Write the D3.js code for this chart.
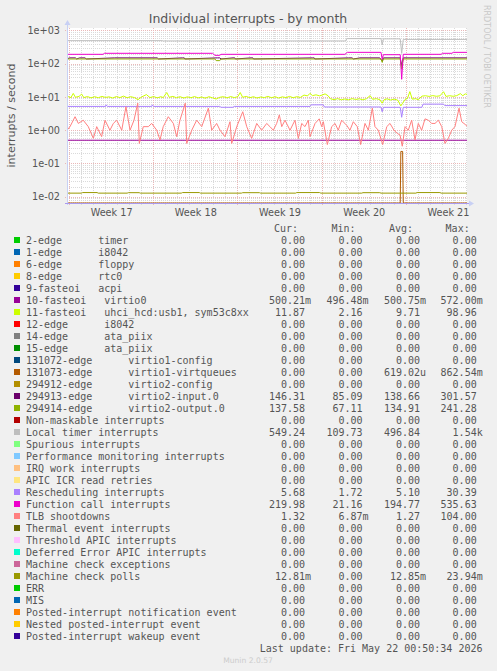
<!DOCTYPE html>
<html><head><meta charset="utf-8">
<script src="https://cdn.jsdelivr.net/npm/d3@7"></script>
<style>
html,body{margin:0;padding:0;background:#f0f0f0;}
svg{display:block;}
text{font-family:"DejaVu Sans",sans-serif;}
.mono{font-family:"DejaVu Sans Mono",monospace;font-size:10px;fill:#555;white-space:pre;}
</style></head><body>
<svg id="c" width="497" height="671"></svg>
<script>
// ---------- data ----------
const title = "Individual interrupts - by month";
const yLabel = "interrupts / second";
const yTicks = [1e-2, 1e-1, 1e0, 1e1, 1e2, 1e3];
const graphStart = Date.UTC(2026, 3, 19, 20, 0);   // left edge of graph
const graphDays = 33.25;                             // graph span in days

const labels = [
  "2-edge      timer", "1-edge      i8042", "6-edge      floppy", "8-edge      rtc0",
  "9-fasteoi   acpi", "10-fasteoi   virtio0", "11-fasteoi   uhci_hcd:usb1, sym53c8xx",
  "12-edge      i8042", "14-edge      ata_piix", "15-edge      ata_piix",
  "131072-edge      virtio1-config", "131073-edge      virtio1-virtqueues",
  "294912-edge      virtio2-config", "294913-edge      virtio2-input.0",
  "294914-edge      virtio2-output.0", "Non-maskable interrupts", "Local timer interrupts",
  "Spurious interrupts", "Performance monitoring interrupts", "IRQ work interrupts",
  "APIC ICR read retries", "Rescheduling interrupts", "Function call interrupts",
  "TLB shootdowns", "Thermal event interrupts", "Threshold APIC interrupts",
  "Deferred Error APIC interrupts", "Machine check exceptions", "Machine check polls",
  "ERR", "MIS", "Posted-interrupt notification event", "Nested posted-interrupt event",
  "Posted-interrupt wakeup event"
];
const colors = [
  "#00CC00","#0066B3","#FF8000","#FFCC00","#330099","#990099","#CCFF00","#FF0000","#808080",
  "#008F00","#00487D","#B35A00","#B38F00","#6B006B","#8FB300","#B30000","#BEBEBE",
  "#80FF80","#80C9FF","#FFC080","#FFE680","#AA80FF","#EE00CC","#FF8080",
  "#666600","#FFBFFF","#00FFCC","#CC6699","#999900",
  "#00CC00","#0066B3","#FF8000","#FFCC00","#330099"
];
const curVals = [0,0,0,0,0,0.50021,11.87,0,0,0,0,0,0,146.31,137.58,0,549.24,0,0,0,0,5.68,219.98,1.32,0,0,0,0,0.01281,0,0,0,0,0];
const minVals = [0,0,0,0,0,0.49648,2.16,0,0,0,0,0,0,85.09,67.11,0,109.73,0,0,0,0,1.72,21.16,0.00687,0,0,0,0,0,0,0,0,0,0];
const avgVals = [0,0,0,0,0,0.50075,9.71,0,0,0,0,0.00061902,0,138.66,134.91,0,496.84,0,0,0,0,5.10,194.77,1.27,0,0,0,0,0.01285,0,0,0,0,0];
const maxVals = [0,0,0,0,0,0.572,98.96,0,0,0,0,0.86254,0,301.57,241.28,0,1540,0,0,0,0,30.39,535.63,104.00,0,0,0,0,0.02394,0,0,0,0,0];

// time series: [day offset from graph start, value]
const irq10 = [[0,0.5],[33.25,0.5]];
const irq11 = [[0,10.5],[0.33,9.6],[0.52,12.8],[0.7,9.8],[1.0,10.4],[1.22,12.2],[1.4,9.6],[1.7,10.3],[2.0,9.4],[2.3,10.2],[2.6,9.5],[2.9,10.4],[3.2,9.7],[3.5,10.1],[3.8,9.3],[4.1,10.3],[4.4,9.6],[4.7,10.6],[5.0,9.5],[5.3,10.2],[5.6,9.6],[5.9,8.3],[6.2,10.0],[6.6,11.8],[6.9,9.6],[7.2,10.3],[7.5,9.4],[7.8,10.2],[8.0,9.6],[8.29,13.6],[8.5,9.8],[8.8,10.4],[9.1,9.5],[9.4,10.2],[9.7,9.3],[10.0,10.1],[10.3,9.5],[10.6,10.3],[10.9,9.4],[11.2,10.0],[11.5,9.2],[11.8,10.2],[12.1,9.4],[12.4,8.7],[12.7,9.8],[13.0,10.2],[13.3,9.4],[13.6,10.3],[13.9,9.6],[14.2,10.2],[14.4,13.6],[14.6,9.8],[14.9,10.4],[15.2,9.5],[15.5,10.2],[15.8,9.3],[16.1,10.0],[16.4,9.6],[16.7,10.4],[17.0,9.5],[17.3,10.2],[17.6,9.3],[17.9,10.1],[18.2,9.6],[18.5,10.4],[18.8,9.5],[19.1,10.2],[19.4,9.7],[19.7,11.4],[20.0,10.8],[20.2,12.9],[20.4,11.0],[20.7,11.6],[21.0,10.8],[21.2,11.4],[21.45,12.4],[21.7,10.9],[21.9,8.8],[22.2,8.3],[22.5,8.9],[22.8,8.2],[23.1,8.7],[23.4,8.2],[23.7,8.9],[24.0,8.4],[24.3,8.8],[24.6,8.2],[24.9,8.9],[25.2,11.0],[25.4,8.5],[25.7,8.9],[26.0,8.3],[26.2,6.5],[26.35,8.2],[26.6,8.8],[26.9,8.1],[27.2,8.6],[27.5,8.0],[27.75,5.4],[27.9,6.5],[28.1,8.4],[28.3,9.0],[28.5,14.5],[28.7,8.6],[29.0,8.9],[29.2,8.2],[29.5,10.6],[29.8,10.9],[30.1,10.4],[30.4,11.0],[30.7,10.5],[31.0,10.8],[31.3,14.4],[31.5,10.4],[31.8,10.9],[32.1,10.5],[32.4,11.0],[32.7,12.6],[32.9,10.9],[33.1,12.4],[33.25,11.9]];
const irq131073 = [[0,0],[27.7,0],[27.75,0.23],[27.9,0.23],[27.95,0],[33.25,0]];
const irq294913 = [[0,139],[0.2,150],[0.7,150],[0.8,139],[1.05,150],[1.5,150],[1.6,139],[3.95,150],[7.5,150],[7.6,139],[9.6,150],[9.75,150],[9.8,139],[12.5,150],[12.7,150],[12.8,139],[13.8,150],[13.95,150],[14.0,139],[15.3,150],[15.45,150],[15.5,139],[20.4,150],[20.55,150],[20.6,139],[23.4,150],[23.7,150],[23.8,139],[24.35,150],[26.0,150],[26.2,120],[26.3,150],[27.7,150],[27.82,88],[27.95,150],[33.25,150]];
const irq294914 = [[0,139],[12.3,139],[12.4,124],[12.7,124],[12.8,139],[26.1,139],[26.2,110],[26.3,139],[27.7,139],[27.82,70],[27.95,139],[33.25,139]];
const locTimer = [[0,495],[7.9,495],[8.0,485],[23.1,485],[23.3,570],[26.1,570],[26.2,370],[26.3,560],[27.7,560],[27.82,205],[27.95,540],[33.25,540]];
const resched = [[0,5.2],[3.2,5.2],[3.25,5.8],[3.35,5.2],[7.05,5.2],[7.1,5.8],[7.2,5.2],[12.7,5.2],[12.8,4.9],[13.8,4.9],[13.9,5.2],[20.2,5.2],[20.3,5.8],[21.3,5.8],[21.4,5.0],[26.1,5.0],[26.2,3.6],[26.3,4.9],[27.7,4.9],[27.82,2.45],[27.95,4.9],[29.5,4.9],[29.6,6.1],[31.3,6.1],[31.4,5.5],[33.25,5.5]];
const funcCall = [[0,192],[3.0,192],[3.1,206],[12.1,206],[12.3,179],[12.7,179],[12.8,192],[23.1,192],[23.3,220],[26.1,220],[26.2,136],[26.3,187],[27.7,187],[27.82,34],[27.95,192],[31.1,192],[31.2,206],[32.0,206],[32.1,220],[33.25,220]];
const tlb = [[0,1.0],[0.25,1.28],[0.67,2.55],[0.94,1.6],[1.35,2.0],[1.77,1.28],[2.19,0.57],[2.47,1.28],[2.88,0.64],[3.16,2.0],[3.57,1.0],[3.85,1.6],[4.13,2.0],[4.55,1.0],[4.90,5.1],[5.24,1.0],[5.57,2.0],[5.88,6.5],[6.01,0.40],[6.34,1.28],[6.76,1.28],[7.04,1.6],[7.46,1.0],[7.73,0.51],[8.00,1.28],[8.42,2.55],[8.84,1.6],[9.12,0.64],[9.39,2.0],[9.83,6.5],[9.95,0.40],[10.37,1.0],[10.78,2.0],[11.20,1.28],[11.75,4.6],[12.03,1.0],[12.44,1.6],[12.72,1.0],[13.13,0.64],[13.55,1.8],[13.69,0.40],[14.11,1.28],[14.61,3.6],[14.94,1.28],[15.35,0.57],[15.77,1.6],[16.18,1.0],[16.60,1.6],[16.87,1.28],[17.15,1.0],[17.43,1.6],[17.65,2.9],[17.85,1.28],[18.12,2.0],[18.54,1.0],[18.95,2.0],[19.23,0.57],[19.51,1.6],[19.78,1.28],[20.06,2.0],[20.20,0.64],[20.62,1.6],[20.97,2.2],[21.17,1.28],[21.31,1.8],[21.64,0.37],[22.00,1.28],[22.28,1.6],[22.55,1.0],[22.83,2.0],[23.25,1.4],[23.52,1.0],[23.80,1.8],[24.13,1.28],[24.41,0.37],[24.77,1.6],[25.05,1.0],[25.38,4.6],[25.60,1.28],[25.88,1.0],[26.24,0.37],[26.58,1.28],[26.85,1.6],[27.18,1.0],[27.46,0.8],[27.68,0.72],[27.87,0.33],[28.10,1.28],[28.37,1.0],[28.65,2.0],[28.93,0.51],[29.20,1.6],[29.48,1.0],[29.76,2.2],[30.03,2.0],[30.32,1.6],[30.59,1.6],[30.87,2.0],[31.15,1.28],[31.42,0.40],[31.70,0.57],[31.98,1.0],[32.25,1.28],[32.59,4.6],[32.81,1.8],[33.09,1.5],[33.25,1.32]];
const mcePolls = [[0,0.0128],[1.2,0.0128],[1.3,0.0133],[2.5,0.0133],[2.6,0.0128],[5.0,0.0128],[5.1,0.0132],[6.0,0.0132],[6.1,0.0128],[9.5,0.0128],[9.6,0.0133],[11.0,0.0133],[11.1,0.0128],[14.5,0.0128],[14.6,0.0132],[16.0,0.0132],[16.1,0.0128],[19.0,0.0128],[19.1,0.0133],[21.0,0.0133],[21.1,0.0128],[24.5,0.0128],[24.6,0.0132],[26.0,0.0132],[26.1,0.0128],[29.0,0.0128],[29.1,0.0133],[31.0,0.0133],[31.1,0.0128],[33.25,0.0128]];

// which legend entry each plotted series belongs to (draw order = legend order)
const plotted = [
  [5, irq10], [6, irq11], [11, irq131073], [13, irq294913], [14, irq294914],
  [16, locTimer], [21, resched], [22, funcCall], [23, tlb], [28, mcePolls]
];

// ---------- drawing ----------
const svg = d3.select("#c");
const W = 497, H = 671;
const pl = 67, pr = 467, pt = 28, pb = 203;
const DAY = 864e5;
const x = d3.scaleTime().domain([new Date(graphStart), new Date(graphStart + graphDays * DAY)]).range([pl, pr]);
const yMin = 0.00646, yMax = 1189;
const y = d3.scaleLog().domain([yMin, yMax]).range([pb, pt]);

svg.append("rect").attr("width", W).attr("height", H).attr("fill", "#f0f0f0");
svg.append("rect").attr("x", pl).attr("y", pt).attr("width", pr - pl).attr("height", pb - pt).attr("fill", "#ffffff");

// title
svg.append("text").attr("x", 248).attr("y", 23).attr("text-anchor", "middle")
  .attr("font-size", "12.5px").attr("fill", "#555").text(title);
// y unit label
svg.append("text").attr("transform", `translate(15,${(pt + pb) / 2}) rotate(-90)`)
  .attr("text-anchor", "middle").attr("font-size", "11px").attr("fill", "#555").text(yLabel);
// watermark
svg.append("text").attr("transform", "translate(483.5,5) rotate(90)")
  .attr("font-size", "8px").attr("fill", "#c8c8c8").text("RRDTOOL / TOBI OETIKER");

// grid
const g = svg.append("g");
const [t0, t1] = x.domain();
const days = d3.utcDay.range(t0, t1);
const mondays = d3.utcMonday.range(t0, t1);
const minorY = [];
for (let e = -3; e <= 3; e++) for (let k = 1; k <= 9; k++) {
  const v = k * Math.pow(10, e);
  if (v >= yMin && v <= yMax) minorY.push(v);
}
g.selectAll(".hmin").data(minorY.filter(v => !yTicks.includes(v))).join("line")
  .attr("x1", pl).attr("x2", pr).attr("y1", d => Math.round(y(d)) + 0.5).attr("y2", d => Math.round(y(d)) + 0.5)
  .attr("stroke", "#dadada").attr("stroke-dasharray", "1,1");
g.selectAll(".vmin").data(days.filter(d => d.getUTCDay() !== 1)).join("line")
  .attr("x1", d => Math.round(x(d)) + 0.5).attr("x2", d => Math.round(x(d)) + 0.5)
  .attr("y1", pt).attr("y2", pb + 2)
  .attr("stroke", "#dadada").attr("stroke-dasharray", "1,1");
g.selectAll(".hmaj").data(yTicks).join("line")
  .attr("x1", pl - 2).attr("x2", pr).attr("y1", d => Math.round(y(d)) + 0.5).attr("y2", d => Math.round(y(d)) + 0.5)
  .attr("stroke", "#eab8b8").attr("stroke-dasharray", "1,1");
g.selectAll(".vmaj").data(mondays).join("line")
  .attr("x1", d => Math.round(x(d)) + 0.5).attr("x2", d => Math.round(x(d)) + 0.5)
  .attr("y1", pt).attr("y2", pb + 3)
  .attr("stroke", "#eab8b8").attr("stroke-dasharray", "1,1");

// series
svg.append("clipPath").attr("id", "pc").append("rect")
  .attr("x", pl).attr("y", pt - 1).attr("width", pr - pl).attr("height", pb - pt + 1);
const line = d3.line()
  .x(d => x(new Date(graphStart + d[0] * DAY)))
  .y(d => y(Math.max(d[1], yMin)));
const sg = svg.append("g").attr("clip-path", "url(#pc)");
plotted.forEach(([idx, data]) => {
  sg.append("path").attr("d", line(data)).attr("fill", "none")
    .attr("stroke", colors[idx]).attr("stroke-width", 1);
});

// axes
const yAxis = d3.axisLeft(y).tickValues(yTicks).tickSize(0).tickPadding(7)
  .tickFormat(v => { const e = Math.round(Math.log10(v)); return "1e" + (e < 0 ? "-" : "+") + String(Math.abs(e)).padStart(2, "0"); });
const ya = svg.append("g").attr("transform", `translate(${pl},0)`).call(yAxis);
ya.select(".domain").remove();
ya.selectAll("text").attr("font-family", "DejaVu Sans").attr("font-size", "9.7px").attr("fill", "#555");

const weekMid = mondays.map(m => new Date(+m + 3.5 * DAY)).filter(d => d <= t1);
const xAxis = d3.axisBottom(x).tickValues(weekMid).tickSize(0).tickPadding(6)
  .tickFormat(d => "Week " + d3.utcFormat("%V")(d));
const xa = svg.append("g").attr("transform", `translate(0,${pb})`).call(xAxis);
xa.select(".domain").remove();
xa.selectAll("text").attr("font-family", "DejaVu Sans").attr("font-size", "9.7px").attr("fill", "#555");

// axis lines + arrows
svg.append("line").attr("x1", pl + 0.5).attr("x2", pl + 0.5).attr("y1", pb + 2).attr("y2", pt - 4).attr("stroke", "#c8d0f4");
svg.append("path").attr("d", `M${pl - 2.5},${pt - 3} L${pl + 3.5},${pt - 3} L${pl + 0.5},${pt - 8} Z`).attr("fill", "#c8d0f4");
svg.append("line").attr("x1", pl - 2).attr("x2", pr + 3).attr("y1", pb + 0.5).attr("y2", pb + 0.5).attr("stroke", "#a99af0");
svg.append("path").attr("d", `M${pr + 2},${pb - 2.5} L${pr + 2},${pb + 3.5} L${pr + 7},${pb + 0.5} Z`).attr("fill", "#c8d0f4");

// legend
function fmt(v) {
  if (v === 0) return ["0.00", ""];
  const a = Math.abs(v);
  if (a >= 1000) return [(v / 1000).toFixed(2), "k"];
  if (a >= 1) return [v.toFixed(2), ""];
  if (a >= 1e-3) return [(v * 1e3).toFixed(2), "m"];
  return [(v * 1e6).toFixed(2), "u"];
}
const colRight = [305, 362.5, 420, 476.7];
const heads = ["Cur:", "Min:", "Avg:", "Max:"];
const lg = svg.append("g");
heads.forEach((h, i) => {
  lg.append("text").attr("class", "mono").attr("x", colRight[i] - 7).attr("y", 231.5)
    .attr("text-anchor", "end").text(h);
});
labels.forEach((lab, i) => {
  const cy = 240 + 12 * i;
  lg.append("rect").attr("x", 14).attr("y", cy - 3).attr("width", 6).attr("height", 6).attr("fill", colors[i]);
  lg.append("text").attr("class", "mono").attr("x", 26).attr("y", cy + 3.5).text(lab);
  [curVals[i], minVals[i], avgVals[i], maxVals[i]].forEach((v, j) => {
    const [n, s] = fmt(v);
    lg.append("text").attr("class", "mono").attr("x", colRight[j]).attr("y", cy + 3.5).attr("text-anchor", "end").text(n);
    if (s) lg.append("text").attr("class", "mono").attr("x", colRight[j]).attr("y", cy + 3.5).text(s);
  });
});
lg.append("text").attr("class", "mono").attr("x", 482.5).attr("y", 240 + 12 * 34 + 3.5)
  .attr("text-anchor", "end").text("Last update: Fri May 22 00:50:34 2026");
svg.append("text").attr("x", 248).attr("y", 663).attr("text-anchor", "middle")
  .attr("font-size", "7.6px").attr("fill", "#cccccc").text("Munin 2.0.57");
</script>
</body></html>
